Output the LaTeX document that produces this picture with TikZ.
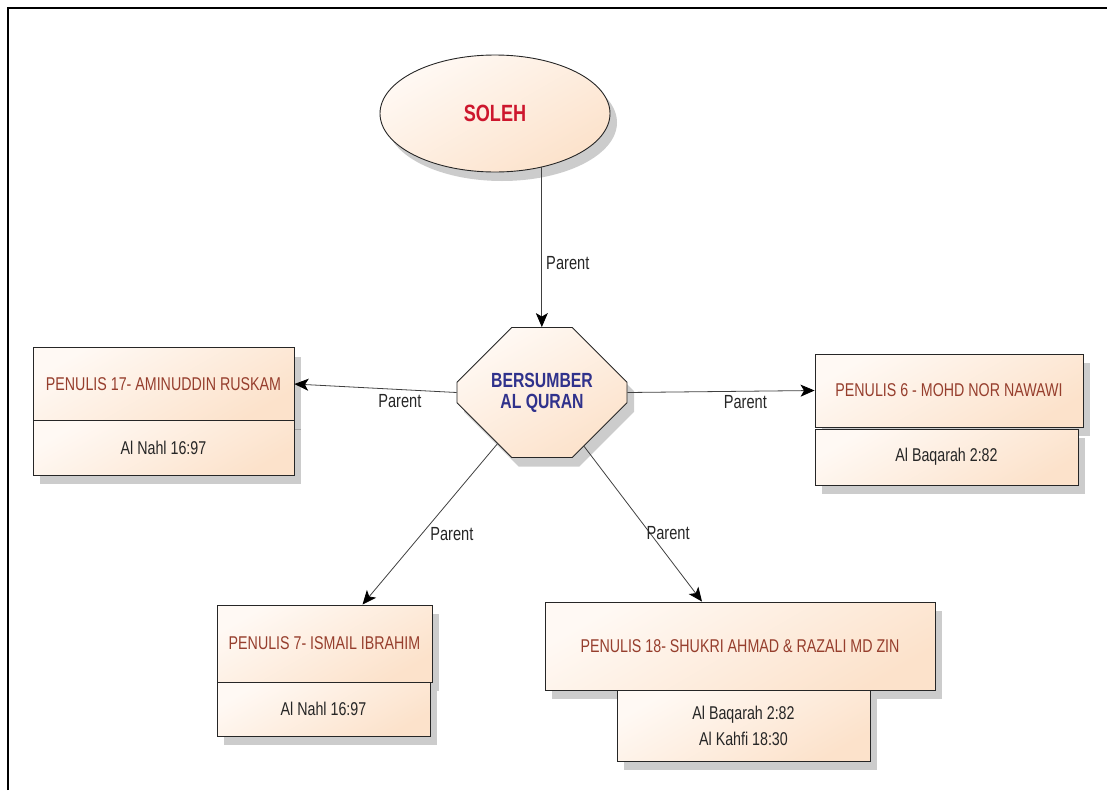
\documentclass[tikz,border=0pt]{standalone}
\usepackage{fontspec}
\setmainfont{Liberation Sans}
\usepackage{graphicx}
\usetikzlibrary{arrows.meta,shapes.geometric,shapes.misc,shadows}
\definecolor{peachL}{RGB}{255,249,244}
\definecolor{peachD}{RGB}{252,226,203}
\definecolor{solehred}{RGB}{205,22,45}
\definecolor{quranblue}{RGB}{48,50,140}
\definecolor{penuliscol}{RGB}{150,62,45}
\newcommand{\sq}[1]{\scalebox{0.77}[1]{#1}}
\tikzset{
  peachfill/.style={draw=black!85, line width=0.9pt, top color=peachL, bottom color=peachD,
    shading angle=30, drop shadow={shadow xshift=7pt, shadow yshift=-9pt, opacity=0.2, fill=black}},
  penulisbox/.style={peachfill, rectangle, inner sep=0pt, text=penuliscol,
    font=\fontsize{18.5}{20}\selectfont},
  ayatbox/.style={peachfill, rectangle, inner sep=0pt, text=black!85, align=center,
    font=\fontsize{18.5}{26}\selectfont},
  parentline/.style={draw=black!75, line width=0.8pt, -{Stealth[length=14pt,width=12pt,inset=3.5pt,black]}},
  edgelabel/.style={font=\fontsize{19}{20}\selectfont, text=black!85, inner sep=1pt}
}

\begin{document}
\begin{tikzpicture}[x=1pt, y=-1pt]
  \useasboundingbox (0,0) rectangle (1107,790);
  % frame
  \draw[line width=2pt] (8,790) -- (8,8) -- (1107,8);

  % top concept and source
  \node[peachfill, ellipse, minimum width=230pt, minimum height=117pt, inner sep=0pt,
        text=solehred, font=\fontsize{23.5}{26}\selectfont\bfseries] (soleh) at (495,113.5) {\sq{SOLEH}};
  \node[peachfill, chamfered rectangle, chamfered rectangle xsep=43pt, chamfered rectangle ysep=35pt,
        minimum width=170pt, minimum height=130pt, inner sep=0pt, align=center,
        text=quranblue, font=\fontsize{20.5}{21}\selectfont\bfseries] (oct) at (542,392.5)
        {\sq{BERSUMBER}\\\sq{AL QURAN}};

  % writers and verses
  \node[penulisbox, minimum width=261pt, minimum height=73pt] (p17) at (163.5,384) {\sq{PENULIS 17- AMINUDDIN RUSKAM}};
  \node[ayatbox, minimum width=261pt, minimum height=55pt] (v17) at (163.5,447.5) {\sq{Al Nahl 16:97}};

  \node[penulisbox, minimum width=268pt, minimum height=73pt] (p6) at (949,390.5) {\sq{PENULIS 6 - MOHD NOR NAWAWI}};
  \node[ayatbox, minimum width=263pt, minimum height=56pt] (v6) at (946.5,457) {\sq{Al Baqarah 2:82}};

  \node[penulisbox, minimum width=215pt, minimum height=77pt] (p7) at (324.5,643.5) {\sq{PENULIS 7- ISMAIL IBRAHIM}};
  \node[ayatbox, minimum width=213pt, minimum height=54pt] (v7) at (323.5,709) {\sq{Al Nahl 16:97}};

  \node[penulisbox, minimum width=390pt, minimum height=88pt] (p18) at (740,646) {\sq{PENULIS 18- SHUKRI AHMAD \& RAZALI MD ZIN}};
  \node[ayatbox, minimum width=253pt, minimum height=71pt] (v18) at (743.5,725.5)
        {\sq{Al Baqarah 2:82}\\\sq{Al Kahfi 18:30}};

  % parent links
  \draw[parentline] (soleh.-49) -- (soleh.-49 |- oct.north)
        node[edgelabel, pos=0.6, right=3pt] {\sq{Parent}};
  \draw[parentline] (oct.west) -- (p17.east)
        node[edgelabel, pos=0.35, below=3pt] {\sq{Parent}};
  \draw[parentline] (oct.east) -- (p6.west)
        node[edgelabel, pos=0.63, below=3pt] {\sq{Parent}};
  \draw[parentline] (oct.-131) -- ([xshift=38pt]p7.north)
        node[edgelabel, pos=0.56, right=7pt] {\sq{Parent}};
  \draw[parentline] (oct.-52) -- ([xshift=-38pt]p18.north)
        node[edgelabel, pos=0.56, anchor=west, xshift=-5pt] {\sq{Parent}};
\end{tikzpicture}
\end{document}
